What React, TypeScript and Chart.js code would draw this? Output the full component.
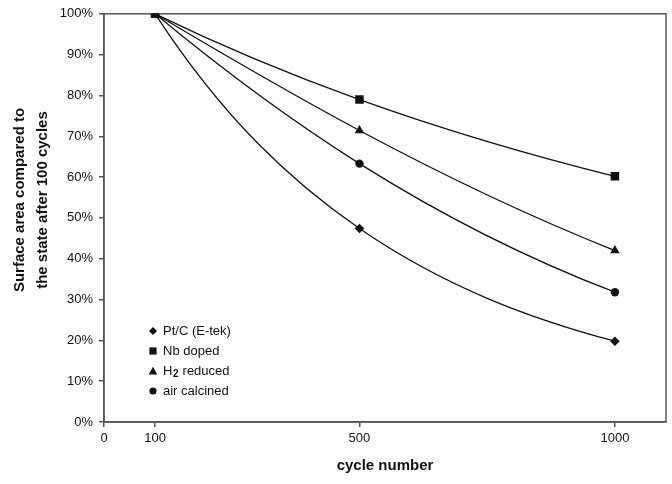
import React, { useEffect, useRef } from "react";
import { Chart, registerables } from "chart.js";

Chart.register(...registerables);

const cycles = [100, 500, 1000];
const xTicks = [0, 100, 500, 1000];
const ptc = [1.0, 0.474, 0.198];
const nbDoped = [1.0, 0.79, 0.602];
const h2Reduced = [1.0, 0.714, 0.42];
const airCalcined = [1.0, 0.633, 0.318];
const seriesNames = ["Pt/C (E-tek)", "Nb doped", "H2 reduced", "air calcined"];
const yTitle = ["Surface area compared to", "the state after 100 cycles"];
const xTitle = "cycle number";

const FONT = "'Liberation Sans', Arial, sans-serif";
const AXIS = "#555";
const INK = "#111";

function drawMarker(ctx: CanvasRenderingContext2D, style: string, x: number, y: number, r: number) {
  ctx.beginPath();
  if (style === "rectRot") {
    ctx.moveTo(x, y - r);
    ctx.lineTo(x + r, y);
    ctx.lineTo(x, y + r);
    ctx.lineTo(x - r, y);
    ctx.closePath();
  } else if (style === "rect") {
    ctx.rect(x - r, y - r, 2 * r, 2 * r);
  } else if (style === "triangle") {
    ctx.moveTo(x, y - r);
    ctx.lineTo(x + r, y + r * 0.8);
    ctx.lineTo(x - r, y + r * 0.8);
    ctx.closePath();
  } else {
    ctx.arc(x, y, r, 0, Math.PI * 2);
  }
  ctx.fill();
}

// Smooth trend-line style: tangents follow a log-space fit through each series' own points
const trendCurvePlugin = {
  id: "trendCurve",
  beforeDatasetsDraw(chart: any) {
    const xs = chart.scales.x;
    const ys = chart.scales.y;
    const sx = xs.getPixelForValue(1) - xs.getPixelForValue(0);
    const sy = ys.getPixelForValue(1) - ys.getPixelForValue(0);
    chart.data.datasets.forEach((ds: any, di: number) => {
      const meta = chart.getDatasetMeta(di);
      if (!meta.dataset) return;
      meta.dataset.updateControlPoints(chart.chartArea, "x");
      const pts = meta.data;
      const X = ds.data.map((d: any) => d.x);
      const L = ds.data.map((d: any) => Math.log(d.y));
      const n = X.length;
      const deriv = (x: number) => {
        let s = 0;
        for (let j = 0; j < n; j++) {
          let dl = 0;
          for (let m = 0; m < n; m++) {
            if (m === j) continue;
            let p = 1 / (X[j] - X[m]);
            for (let k = 0; k < n; k++) {
              if (k === j || k === m) continue;
              p *= (x - X[k]) / (X[j] - X[k]);
            }
            dl += p;
          }
          s += L[j] * dl;
        }
        return s;
      };
      const slopes = ds.data.map((d: any) => (d.y * deriv(d.x) * sy) / sx);
      for (let i = 0; i < pts.length - 1; i++) {
        const a = pts[i];
        const b = pts[i + 1];
        const dx = (b.x - a.x) / 3;
        a.cp2x = a.x + dx;
        a.cp2y = a.y + slopes[i] * dx;
        b.cp1x = b.x - dx;
        b.cp1y = b.y - slopes[i + 1] * dx;
      }
    });
  },
};

const framePlugin = {
  id: "frame",
  beforeDatasetsDraw(chart: any) {
    const { ctx, chartArea: a } = chart;
    ctx.save();
    ctx.strokeStyle = AXIS;
    ctx.lineWidth = 1.5;
    ctx.strokeRect(a.left, a.top, a.right - a.left, a.bottom - a.top);
    ctx.restore();
  },
  afterDraw(chart: any) {
    const { ctx, chartArea: a } = chart;
    ctx.save();
    ctx.fillStyle = INK;
    ctx.font = `bold 15px ${FONT}`;
    ctx.textAlign = "center";
    ctx.textBaseline = "middle";
    const cy = 200;
    [20, 43].forEach((cx, i) => {
      ctx.save();
      ctx.translate(cx, cy);
      ctx.rotate(-Math.PI / 2);
      ctx.fillText(yTitle[i], 0, 0);
      ctx.restore();
    });
    ctx.fillText(xTitle, (a.left + a.right) / 2, 466);

    const styles = ["rectRot", "rect", "triangle", "circle"];
    const sizes = [4, 3.6, 4.3, 3.6];
    const rows = [331, 351, 371, 391];
    ctx.textAlign = "left";
    ctx.font = `13px ${FONT}`;
    seriesNames.forEach((name, i) => {
      const y = rows[i];
      ctx.fillStyle = INK;
      drawMarker(ctx, styles[i], 153, y, sizes[i]);
      let x = 163;
      if (name.startsWith("H2")) {
        ctx.fillText("H", x, y);
        x += ctx.measureText("H").width;
        ctx.font = `bold 10px ${FONT}`;
        ctx.fillText("2", x + 0.5, y + 3);
        x += ctx.measureText("2").width + 1;
        ctx.font = `13px ${FONT}`;
        ctx.fillText(name.slice(2), x, y);
      } else {
        ctx.fillText(name, x, y);
      }
    });
    ctx.restore();
  },
};

export default function App() {
  const ref = useRef<HTMLCanvasElement | null>(null);
  useEffect(() => {
    if (!ref.current) return;
    const mk = (label: string, data: number[], pointStyle: string, r: number) => ({
      label,
      data: cycles.map((c, i) => ({ x: c, y: data[i] })),
      borderColor: INK,
      backgroundColor: INK,
      borderWidth: 1.3,
      pointStyle,
      pointRadius: r,
      pointHoverRadius: r,
      pointBorderWidth: 0,
      tension: 0.4,
    });
    const chart = new Chart(ref.current, {
      type: "line",
      data: {
        datasets: [
          mk(seriesNames[0], ptc, "rectRot", 4.8),
          mk(seriesNames[1], nbDoped, "rect", 6),
          mk(seriesNames[2], h2Reduced, "triangle", 5.5),
          mk(seriesNames[3], airCalcined, "circle", 4.2),
        ] as any,
      },
      options: {
        animation: false,
        responsive: false,
        maintainAspectRatio: false,
        layout: { padding: { top: 13, right: 5, left: 0, bottom: 0 } },
        plugins: { legend: { display: false }, tooltip: { enabled: false } },
        scales: {
          x: {
            type: "linear",
            min: 0,
            max: 1100,
            afterBuildTicks: (s: any) => {
              s.ticks = xTicks.map((v) => ({ value: v }));
            },
            afterFit: (s: any) => {
              s.height = 62;
            },
            grid: { display: true, drawOnChartArea: false, drawTicks: true, tickLength: 5, color: AXIS, lineWidth: 1.5 },
            border: { display: true, color: AXIS, width: 1.5 },
            ticks: {
              color: INK,
              font: { size: 13, family: FONT },
              padding: 4,
              maxRotation: 0,
              autoSkip: false,
              callback: (v: any) => String(v),
            },
          },
          y: {
            min: 0,
            max: 1,
            afterFit: (s: any) => {
              s.width = 104;
            },
            grid: { display: true, drawOnChartArea: false, drawTicks: true, tickLength: 5, color: AXIS, lineWidth: 1.5 },
            border: { display: true, color: AXIS, width: 1.5 },
            ticks: {
              stepSize: 0.1,
              color: INK,
              font: { size: 13, family: FONT },
              padding: 6,
              callback: (v: any) => Math.round(Number(v) * 100) + "%",
            },
          },
        },
      },
      plugins: [trendCurvePlugin, framePlugin],
    });
    return () => chart.destroy();
  }, []);
  return (
    <div style={{ position: "fixed", left: 0, top: 0, width: 672, height: 484, background: "#fff" }}>
      <canvas ref={ref} width={672} height={484} style={{ width: 672, height: 484 }} />
    </div>
  );
}
